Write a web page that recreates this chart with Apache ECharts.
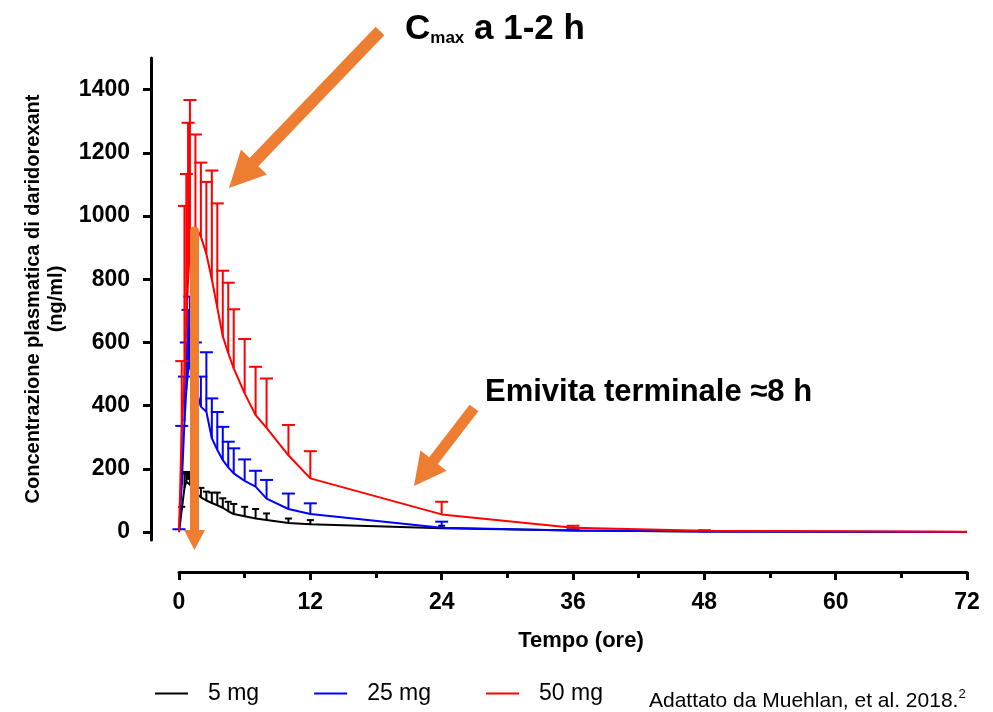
<!DOCTYPE html>
<html>
<head>
<meta charset="utf-8">
<script src="https://cdn.jsdelivr.net/npm/echarts@6/dist/echarts.min.js"></script>
<style>
  html, body { margin: 0; padding: 0; background: #fff; }
  #chart { width: 993px; height: 712px; }
</style>
</head>
<body>
<div id="chart"></div>
<script>
// ---- Data ----
const times = [0, 0.25, 0.5, 0.67, 0.83, 1, 1.5, 2, 2.5, 3, 3.5, 4, 4.5, 5, 6, 7, 8, 10, 12, 24, 36, 48, 72];

const mean5  = [0, 70, 140, 160, 165, 150, 125, 110, 100, 92, 85, 77, 66, 57, 50, 43, 38, 29, 25, 12, 5, 2, 0.5];
const upper5 = [0, 80, 186, 190, 190, 185, 154, 140, 128, 125, 125, 107, 96, 89, 80, 73, 59, 43, 38, 20, 7, 3, 0.5];

const mean25  = [0, 150, 350, 450, 510, 528, 460, 397, 381, 297, 260, 228, 205, 186, 162, 144, 106, 73, 57, 14, 5, 2, 0.5];
const upper25 = [9, 336, 492, 600, 703, 745, 600, 492, 569, 423, 380, 333, 286, 265, 230, 194, 165, 122, 91, 33, 9, 3, 0.5];

const mean50  = [0, 330, 500, 650, 800, 900, 966, 935, 880, 800, 710, 620, 566, 518, 439, 370, 330, 243, 170, 56, 14, 4, 1];
const upper50 = [0, 541, 1032, 1133, 1295, 1367, 1258, 1169, 1108, 1144, 1040, 827, 789, 705, 611, 523, 486, 339, 256, 96, 20, 6, 1];

const seriesNames = ['5 mg', '25 mg', '50 mg'];
const xTicks = [0, 12, 24, 36, 48, 60, 72];
const yTicks = [0, 200, 400, 600, 800, 1000, 1200, 1400];

// ---- Build ----
const FONT = "'Liberation Sans', Arial, sans-serif";
const ORANGE = '#ED7D31';

function pairs(t, v) { return t.map((x, i) => [x, v[i]]); }
function triples(t, m, u) { return t.map((x, i) => [x, m[i], u[i]]); }

function errRender(capW, color) {
  return function (params, api) {
    const t = api.value(0), m = api.value(1), u = api.value(2);
    if (u <= m) return null;
    const p0 = api.coord([t, m]);
    const p1 = api.coord([t, u]);
    return {
      type: 'group',
      children: [
        { type: 'line', shape: { x1: p0[0], y1: p0[1], x2: p1[0], y2: p1[1] }, style: { stroke: color, lineWidth: 2 } },
        { type: 'line', shape: { x1: p1[0] - capW / 2, y1: p1[1], x2: p1[0] + capW / 2, y2: p1[1] }, style: { stroke: color, lineWidth: 2 } }
      ]
    };
  };
}

function arrowPoly(x1, y1, x2, y2, sw, hl, hw) {
  const dx = x2 - x1, dy = y2 - y1, L = Math.hypot(dx, dy);
  const ux = dx / L, uy = dy / L, nx = -uy, ny = ux;
  const bx = x2 - ux * hl, by = y2 - uy * hl;
  return [
    [x1 + nx * sw / 2, y1 + ny * sw / 2],
    [bx + nx * sw / 2, by + ny * sw / 2],
    [bx + nx * hw / 2, by + ny * hw / 2],
    [x2, y2],
    [bx - nx * hw / 2, by - ny * hw / 2],
    [bx - nx * sw / 2, by - ny * sw / 2],
    [x1 - nx * sw / 2, y1 - ny * sw / 2]
  ];
}

const colors = ['#000000', '#0000FF', '#FF0000'];
const means = [mean5, mean25, mean50];
const uppers = [upper5, upper25, upper50];
const capWidths = [7, 13, 13];

const series = [];
for (let i = 0; i < 3; i++) {
  series.push({
    name: seriesNames[i],
    type: 'line',
    data: pairs(times, means[i]),
    symbol: 'none',
    color: colors[i],
    lineStyle: { color: colors[i], width: 2 },
    z: 2 + i
  });
  series.push({
    name: seriesNames[i] + ' SD',
    type: 'custom',
    data: triples(times, means[i], uppers[i]),
    encode: { x: 0, y: [1, 2] },
    renderItem: errRender(capWidths[i], colors[i]),
    z: 2 + i
  });
}

const chart = echarts.init(document.getElementById('chart'), null, { renderer: 'canvas' });

chart.setOption({
  animation: false,
  backgroundColor: '#ffffff',
  textStyle: { fontFamily: FONT },
  grid: { left: 179, right: 26, top: 58, bottom: 172, containLabel: false },
  xAxis: {
    type: 'value', min: 0, max: 72, interval: 12, offset: 32,
    axisLine: { show: true, onZero: false, lineStyle: { color: '#000', width: 3 } },
    axisTick: { show: true, length: 8, lineStyle: { color: '#000', width: 3 }, customValues: xTicks },
    minorTick: { show: true, splitNumber: 2, length: 6, lineStyle: { color: '#000', width: 3 } },
    axisLabel: { customValues: xTicks, formatter: v => String(v), fontSize: 23, fontWeight: 'bold', color: '#000', margin: 19, fontFamily: FONT },
    splitLine: { show: false }, minorSplitLine: { show: false },
    name: 'Tempo (ore)', nameLocation: 'middle', nameGap: 58,
    nameTextStyle: { fontSize: 22, fontWeight: 'bold', color: '#000', fontFamily: FONT, padding: [0, 0, 0, 16] }
  },
  yAxis: {
    type: 'value', min: -25, max: 1500, offset: 28,
    axisLine: { show: true, onZero: false, lineStyle: { color: '#000', width: 3 } },
    axisTick: { show: true, length: 8, lineStyle: { color: '#000', width: 3 }, customValues: yTicks },
    axisLabel: { customValues: yTicks, formatter: v => String(v), fontSize: 23, fontWeight: 'bold', color: '#000', margin: 21, fontFamily: FONT },
    splitLine: { show: false },
    name: 'Concentrazione plasmatica di daridorexant\n(ng/ml)',
    nameLocation: 'middle', nameGap: 71, nameRotate: 90,
    nameTextStyle: { fontSize: 20, fontWeight: 'bold', color: '#000', fontFamily: FONT, lineHeight: 23, align: 'center' }
  },
  legend: {
    data: seriesNames, left: 150, top: 677, icon: 'rect', itemWidth: 33, itemHeight: 2, itemGap: 55,
    textStyle: { fontSize: 23, color: '#000', fontFamily: FONT, padding: [0, 0, 0, 15] }
  },
  series: series,
  graphic: [
    { type: 'polygon', z: 100, shape: { points: arrowPoly(380, 31, 229, 188, 12, 36, 36) }, style: { fill: ORANGE } },
    { type: 'polygon', z: 100, shape: { points: arrowPoly(474, 408, 414, 486, 11, 32, 33) }, style: { fill: ORANGE } },
    { type: 'line', z: 100, shape: { x1: 194.5, y1: 231, x2: 194.5, y2: 532 }, style: { stroke: ORANGE, lineWidth: 9, lineCap: 'round' } },
    { type: 'polygon', z: 100, shape: { points: [[184, 530], [205, 530], [194.5, 550]] }, style: { fill: ORANGE } },
    {
      type: 'text', z: 100, left: 405, top: 12,
      style: {
        text: '{c|C}{m|max}{c| a 1-2 h}',
        rich: {
          c: { fontSize: 35, fontWeight: 'bold', fill: '#000', fontFamily: FONT, lineHeight: 40, verticalAlign: 'bottom' },
          m: { fontSize: 17, fontWeight: 'bold', fill: '#000', fontFamily: FONT, lineHeight: 17, verticalAlign: 'bottom' }
        }
      }
    },
    {
      type: 'text', z: 100, x: 485, y: 392,
      style: { text: 'Emivita terminale \u22488 h', fontSize: 31, fontWeight: 'bold', fill: '#000', fontFamily: FONT, verticalAlign: 'middle' }
    },
    {
      type: 'text', z: 100, left: 649, top: 688,
      style: {
        text: 'Adattato da Muehlan, et al. 2018.{s|2}',
        fontSize: 21, fill: '#000', fontFamily: FONT, lineHeight: 26,
        rich: { s: { fontSize: 13, fill: '#000', fontFamily: FONT, verticalAlign: 'top', lineHeight: 13 } }
      }
    }
  ]
});
</script>
</body>
</html>
